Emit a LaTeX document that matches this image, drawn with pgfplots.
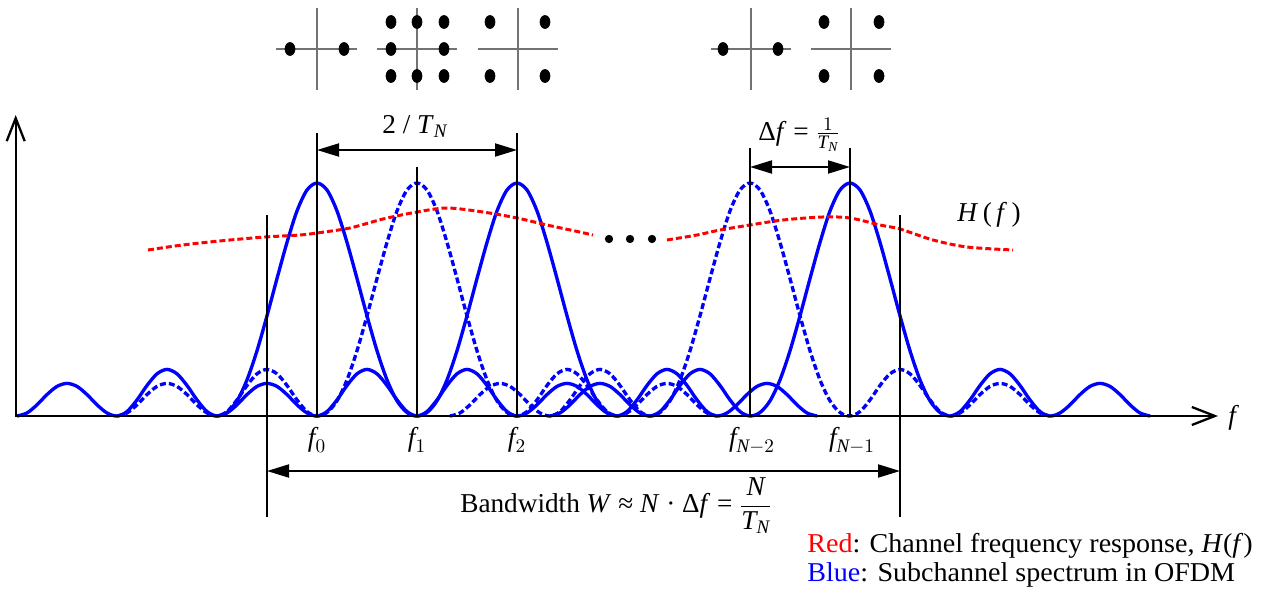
\documentclass[border=0pt]{standalone}
\usepackage{fontspec}
\setmainfont{Liberation Serif}
\usepackage{amsmath}
\usepackage{pgfplots}
\pgfplotsset{compat=1.18}
\usepackage{pgfplotstable}
\usetikzlibrary{arrows.meta}

% one |sinc|-like lobe shape, placed at each subcarrier (x columns a..e)
\pgfplotstableread{
v     a    b    c    d     e
0     0.17 1.17 2.17 4.50  5.50
0.013 0.27 1.27 2.27 4.60  5.60
0.048 0.37 1.37 2.37 4.70  5.70
0.092 0.47 1.47 2.47 4.80  5.80
0.127 0.57 1.57 2.57 4.90  5.90
0.14  0.67 1.67 2.67 5.00  6.00
0.127 0.77 1.77 2.77 5.10  6.10
0.092 0.87 1.87 2.87 5.20  6.20
0.048 0.97 1.97 2.97 5.30  6.30
0.013 1.07 2.07 3.07 5.40  6.40
0     1.17 2.17 3.17 5.50  6.50
0.019 1.27 2.27 3.27 5.60  6.60
0.069 1.37 2.37 3.37 5.70  6.70
0.131 1.47 2.47 3.47 5.80  6.80
0.181 1.57 2.57 3.57 5.90  6.90
0.2   1.67 2.67 3.67 6.00  7.00
0.181 1.77 2.77 3.77 6.10  7.10
0.131 1.87 2.87 3.87 6.20  7.20
0.069 1.97 2.97 3.97 6.30  7.30
0.019 2.07 3.07 4.07 6.40  7.40
0     2.17 3.17 4.17 6.50  7.50
0.015 2.27 3.27 4.27 6.60  7.60
0.065 2.37 3.37 4.37 6.70  7.70
0.155 2.47 3.47 4.47 6.80  7.80
0.28  2.57 3.57 4.57 6.90  7.90
0.43  2.67 3.67 4.67 7.00  8.00
0.59  2.77 3.77 4.77 7.10  8.10
0.745 2.87 3.87 4.87 7.20  8.20
0.88  2.97 3.97 4.97 7.30  8.30
0.97  3.07 4.07 5.07 7.40  8.40
1     3.17 4.17 5.17 7.50  8.50
0.97  3.27 4.27 5.27 7.60  8.60
0.88  3.37 4.37 5.37 7.70  8.70
0.745 3.47 4.47 5.47 7.80  8.80
0.59  3.57 4.57 5.57 7.90  8.90
0.43  3.67 4.67 5.67 8.00  9.00
0.28  3.77 4.77 5.77 8.10  9.10
0.155 3.87 4.87 5.87 8.20  9.20
0.065 3.97 4.97 5.97 8.30  9.30
0.015 4.07 5.07 6.07 8.40  9.40
0     4.17 5.17 6.17 8.50  9.50
0.019 4.27 5.27 6.27 8.60  9.60
0.069 4.37 5.37 6.37 8.70  9.70
0.131 4.47 5.47 6.47 8.80  9.80
0.181 4.57 5.57 6.57 8.90  9.90
0.2   4.67 5.67 6.67 9.00  10.00
0.181 4.77 5.77 6.77 9.10  10.10
0.131 4.87 5.87 6.87 9.20  10.20
0.069 4.97 5.97 6.97 9.30  10.30
0.019 5.07 6.07 7.07 9.40  10.40
0     5.17 6.17 7.17 9.50  10.50
0.013 5.27 6.27 7.27 9.60  10.60
0.048 5.37 6.37 7.37 9.70  10.70
0.092 5.47 6.47 7.47 9.80  10.80
0.127 5.57 6.57 7.57 9.90  10.90
0.14  5.67 6.67 7.67 10.00 11.00
0.127 5.77 6.77 7.77 10.10 11.10
0.092 5.87 6.87 7.87 10.20 11.20
0.048 5.97 6.97 7.97 10.30 11.30
0.013 6.07 7.07 8.07 10.40 11.40
0     6.17 7.17 8.17 10.50 11.50
}\lobes

\tikzset{
  lab/.style={font=\fontsize{15.5}{18}\selectfont, inner sep=0pt},
  dim/.style={line width=1.1pt, {Triangle[length=4.4mm,width=2.6mm]}-{Triangle[length=4.4mm,width=2.6mm]}},
  ax/.style={line width=1.3pt, -{Straight Barb[length=4.6mm,width=3.6mm]}},
  cross/.style={black!55, line width=0.8pt}
}

\begin{document}
\begin{tikzpicture}
\begin{axis}[scale only axis, width=252.6mm, height=118mm,
  xmin=0, xmax=12.63, ymin=-0.7468, ymax=1.7854,
  axis line style={draw=none}, xtick=\empty, ytick=\empty, clip=false]

% subchannel spectra
\addplot[blue, line width=1.9pt, smooth] table[x=a, y=v] {\lobes};
\addplot[blue, line width=1.9pt, smooth] table[x=c, y=v] {\lobes};
\addplot[blue, line width=1.9pt, smooth] table[x=e, y=v] {\lobes};
\addplot[blue, line width=1.9pt, smooth, dash pattern=on 1.2mm off 0.6mm] table[x=b, y=v] {\lobes};
\addplot[blue, line width=1.9pt, smooth, dash pattern=on 1.2mm off 0.6mm] table[x=d, y=v] {\lobes};

% channel response H(f)
\addplot[red, line width=1.7pt, smooth, dash pattern=on 1.2mm off 0.6mm] coordinates {
  (1.48,0.7124) (1.75,0.7296) (2.00,0.7425) (2.30,0.7554) (2.65,0.7682)
  (3.00,0.7768) (3.17,0.7854) (3.50,0.8069) (3.83,0.8455) (4.17,0.8755)
  (4.47,0.8927) (4.83,0.8755) (5.17,0.8498) (5.47,0.8197) (5.75,0.7940)
  (5.93,0.7768)};
\addplot[red, line width=1.7pt, smooth, dash pattern=on 1.2mm off 0.6mm] coordinates {
  (6.67,0.7554) (6.97,0.7768) (7.20,0.7983) (7.50,0.8197) (7.83,0.8412)
  (8.23,0.8541) (8.50,0.8498) (8.80,0.8197) (9.00,0.8026) (9.33,0.7554)
  (9.67,0.7253) (10.13,0.7124)};

% ellipsis
\addplot[only marks, mark=*, mark size=0.75mm, black] coordinates {
  (6.09,0.7597) (6.30,0.7597) (6.52,0.7597)};

% axes
\draw[ax] (axis cs:0.15,0) -- (axis cs:12.18,0);
\draw[ax] (axis cs:0.157,0) -- (axis cs:0.157,1.2918);

% guide lines
\draw[line width=1.1pt] (axis cs:3.17,0) -- (axis cs:3.17,1.2146);
\draw[line width=1.1pt] (axis cs:5.17,0) -- (axis cs:5.17,1.2146);
\draw[line width=1.1pt] (axis cs:4.17,0) -- (axis cs:4.17,1.0687);
\draw[line width=1.1pt] (axis cs:7.50,0) -- (axis cs:7.50,1.1502);
\draw[line width=1.1pt] (axis cs:8.50,0) -- (axis cs:8.50,1.1502);
\draw[line width=1.1pt] (axis cs:2.67,-0.4335) -- (axis cs:2.67,0.8627);
\draw[line width=1.1pt] (axis cs:9.00,-0.4335) -- (axis cs:9.00,0.8627);

% dimension arrows
\draw[dim] (axis cs:3.17,1.1416) -- (axis cs:5.17,1.1416);
\draw[dim] (axis cs:7.50,1.0687) -- (axis cs:8.50,1.0687);
\draw[dim] (axis cs:2.67,-0.2361) -- (axis cs:9.00,-0.2361);

% constellations
\draw[cross] (axis cs:2.76,1.5751) -- (axis cs:3.57,1.5751);
\draw[cross] (axis cs:3.17,1.7511) -- (axis cs:3.17,1.3991);
\draw[cross] (axis cs:3.77,1.5751) -- (axis cs:4.57,1.5751);
\draw[cross] (axis cs:4.17,1.7511) -- (axis cs:4.17,1.3991);
\draw[cross] (axis cs:4.78,1.5751) -- (axis cs:5.58,1.5751);
\draw[cross] (axis cs:5.18,1.7511) -- (axis cs:5.18,1.3991);
\draw[cross] (axis cs:7.11,1.5751) -- (axis cs:7.91,1.5751);
\draw[cross] (axis cs:7.51,1.7511) -- (axis cs:7.51,1.3991);
\draw[cross] (axis cs:8.11,1.5751) -- (axis cs:8.91,1.5751);
\draw[cross] (axis cs:8.51,1.7511) -- (axis cs:8.51,1.3991);
\addplot[only marks, mark=*, mark size=1mm, black, mark options={yscale=1.3}] coordinates {
  (2.90,1.5751) (3.44,1.5751)
  (3.91,1.6910) (4.17,1.6910) (4.44,1.6910)
  (3.91,1.5751) (4.44,1.5751)
  (3.91,1.4592) (4.17,1.4592) (4.44,1.4592)
  (4.90,1.6910) (5.45,1.6910) (4.90,1.4592) (5.45,1.4592)
  (7.23,1.5751) (7.78,1.5751)
  (8.24,1.6910) (8.79,1.6910) (8.24,1.4592) (8.79,1.4592)};

% labels
\node[lab, anchor=base] at (axis cs:3.17,-0.1288) {$\textit{f}_{0}$};
\node[lab, anchor=base] at (axis cs:4.17,-0.1288) {$\textit{f}_{1}$};
\node[lab, anchor=base] at (axis cs:5.17,-0.1288) {$\textit{f}_{2}$};
\node[lab, anchor=base] at (axis cs:7.52,-0.1288) {$\textit{f}_{\textit{N}-2}$};
\node[lab, anchor=base] at (axis cs:8.52,-0.1288) {$\textit{f}_{\textit{N}-1}$};
\node[lab, anchor=base west] at (axis cs:12.28,-0.0386) {\textit{f}};
\node[lab, anchor=base] at (axis cs:4.15,1.2103) {2 / \textit{T}$_{\textit{N}}$};
\node[lab, anchor=base west] at (axis cs:7.58,1.1845) {Δ\textit{f} = $\frac{1}{\textit{T}_{\textit{N}}}$};
\node[lab, anchor=base west] at (axis cs:9.57,0.8369) {\textit{H}\,(\,\textit{f}\,)};
\node[lab, anchor=base west] at (axis cs:4.60,-0.4142)
  {Bandwidth \textit{W} ≈ \textit{N} · Δ\textit{f} = $\displaystyle\frac{\textit{N}}{\textit{T}_{\textit{N}}}$};
\node[lab, xscale=1.03, anchor=base west] at (axis cs:8.07,-0.5858)
  {\textcolor{red}{Red}: Channel frequency response, \textit{H}(\textit{f})};
\node[lab, xscale=1.03, anchor=base west] at (axis cs:8.07,-0.7124)
  {\textcolor{blue}{Blue}: Subchannel spectrum in OFDM};
\end{axis}
\end{tikzpicture}
\end{document}
